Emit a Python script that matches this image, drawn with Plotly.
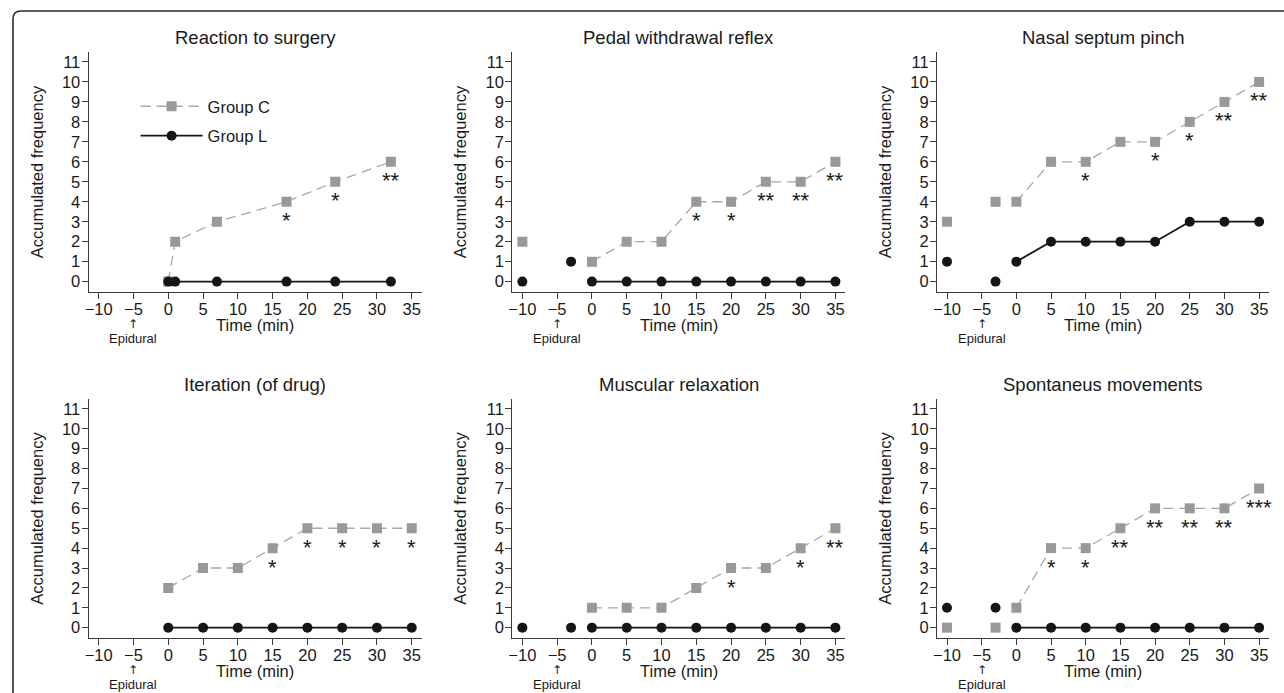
import plotly.graph_objects as go

# ---------------- data ----------------
panel_titles = ["Reaction to surgery", "Pedal withdrawal reflex", "Nasal septum pinch",
                "Iteration (of drug)", "Muscular relaxation", "Spontaneus movements"]

reaction_times = [0, 1, 7, 17, 24, 32]
main_times = [0, 5, 10, 15, 20, 25, 30, 35]
pre_times = [-10, -3]

# Group C (control) accumulated frequency
c_reaction = [0, 2, 3, 4, 5, 6]
c_pedal = [1, 2, 2, 4, 4, 5, 5, 6]
c_nasal = [4, 6, 6, 7, 7, 8, 9, 10]
c_iteration = [2, 3, 3, 4, 5, 5, 5, 5]
c_muscular = [1, 1, 1, 2, 3, 3, 4, 5]
c_spont = [1, 4, 4, 5, 6, 6, 6, 7]

# Group L accumulated frequency
l_reaction = [0, 0, 0, 0, 0, 0]
l_pedal = [0, 0, 0, 0, 0, 0, 0, 0]
l_nasal = [1, 2, 2, 2, 2, 3, 3, 3]
l_iteration = [0, 0, 0, 0, 0, 0, 0, 0]
l_muscular = [0, 0, 0, 0, 0, 0, 0, 0]
l_spont = [0, 0, 0, 0, 0, 0, 0, 0]

# pre-epidural (baseline) values at -10 and -3 min
c_pre_pedal = [2, None]
l_pre_pedal = [0, 1]
c_pre_nasal = [3, 4]
l_pre_nasal = [1, 0]
l_pre_muscular = [0, 0]
c_pre_spont = [0, 0]
l_pre_spont = [1, 1]

# significance marks under Group C
s_reaction = ["", "", "", "*", "*", "**"]
s_pedal = ["", "", "", "*", "*", "**", "**", "**"]
s_nasal = ["", "", "*", "", "*", "*", "**", "**"]
s_iteration = ["", "", "", "*", "*", "*", "*", "*"]
s_muscular = ["", "", "", "", "*", "", "*", "**"]
s_spont = ["", "*", "*", "**", "**", "**", "**", "***"]

x_ticks = [-10, -5, 0, 5, 10, 15, 20, 25, 30, 35]
y_ticks = list(range(0, 12))

panels = [
    dict(t=reaction_times, c=c_reaction, l=l_reaction, s=s_reaction, cpre=None, lpre=None),
    dict(t=main_times, c=c_pedal, l=l_pedal, s=s_pedal, cpre=c_pre_pedal, lpre=l_pre_pedal),
    dict(t=main_times, c=c_nasal, l=l_nasal, s=s_nasal, cpre=c_pre_nasal, lpre=l_pre_nasal),
    dict(t=main_times, c=c_iteration, l=l_iteration, s=s_iteration, cpre=None, lpre=None),
    dict(t=main_times, c=c_muscular, l=l_muscular, s=s_muscular, cpre=None, lpre=l_pre_muscular),
    dict(t=main_times, c=c_spont, l=l_spont, s=s_spont, cpre=c_pre_spont, lpre=l_pre_spont),
]

# ---------------- style ----------------
W, H = 1284, 693
FONT = "Liberation Sans, Arial, Helvetica, sans-serif"
TXT = "#1a1a1a"
AX = "#3a3a3a"
C_MARK = "#999999"
C_LINE = "#a8a8a8"
L_COL = "#151515"

col_px = [(85, 419), (510, 844), (936, 1269)]
row_px = [(52, 292), (399, 638)]


def fx(p):
    return p / W


def fy(p):
    return 1 - p / H


fig = go.Figure()
layout = dict(
    width=W, height=H,
    margin=dict(l=0, r=0, t=0, b=0),
    paper_bgcolor="white", plot_bgcolor="white",
    font=dict(family=FONT, color=TXT, size=16.5),
    showlegend=True,
    legend=dict(x=fx(132), y=fy(89), xanchor="left", yanchor="top",
                bgcolor="rgba(0,0,0,0)", font=dict(size=16.5, color=TXT),
                traceorder="grouped", tracegroupgap=5, itemwidth=62),
)
annotations = []
shapes = []

for i, p in enumerate(panels):
    r, c = divmod(i, 3)
    n = "" if i == 0 else str(i + 1)
    xa, ya = "x" + n, "y" + n
    x0, x1 = col_px[c]
    y0, y1 = row_px[r]

    layout["xaxis" + n] = dict(
        domain=[fx(x0), fx(x1)], anchor=ya, range=[-11.43, 36.43],
        tickmode="array", tickvals=x_ticks, ticks="outside", ticklen=6, tickwidth=1.2,
        tickcolor=AX, showline=True, linecolor=AX, linewidth=1.3, showgrid=False,
        zeroline=False, tickfont=dict(size=16.5, color=TXT), ticklabelstandoff=-4,
    )
    layout["yaxis" + n] = dict(
        domain=[fy(y1), fy(y0)], anchor=xa, range=[-0.52, 11.5],
        tickmode="array", tickvals=y_ticks, ticks="outside", ticklen=6, tickwidth=1.2,
        tickcolor=AX, showline=True, linecolor=AX, linewidth=1.3, showgrid=False,
        zeroline=False, tickfont=dict(size=16.5, color=TXT), ticklabelstandoff=-2,
        title=dict(text="Accumulated frequency", font=dict(size=16.5, color=TXT), standoff=14),
    )

    # baseline (pre-epidural) points
    if p["cpre"] is not None:
        fig.add_trace(go.Scatter(x=pre_times, y=p["cpre"], mode="markers", xaxis=xa, yaxis=ya,
                                 marker=dict(symbol="square", size=10, color=C_MARK),
                                 showlegend=False, hoverinfo="skip"))
    # Group C main line
    fig.add_trace(go.Scatter(x=p["t"], y=p["c"], mode="lines+markers", xaxis=xa, yaxis=ya,
                             name="Group C", legendgroup="C", showlegend=(i == 0),
                             line=dict(color=C_LINE, width=1.3, dash="10px,6px"),
                             marker=dict(symbol="square", size=10, color=C_MARK)))
    if p["lpre"] is not None:
        fig.add_trace(go.Scatter(x=pre_times, y=p["lpre"], mode="markers", xaxis=xa, yaxis=ya,
                                 marker=dict(symbol="circle", size=10, color=L_COL),
                                 showlegend=False, hoverinfo="skip"))
    # Group L main line
    fig.add_trace(go.Scatter(x=p["t"], y=p["l"], mode="lines+markers", xaxis=xa, yaxis=ya,
                             name="Group L", legendgroup="L", showlegend=(i == 0),
                             line=dict(color=L_COL, width=1.8),
                             marker=dict(symbol="circle", size=10, color=L_COL)))

    # significance stars
    for tx, cy, s in zip(p["t"], p["c"], p["s"]):
        if s:
            annotations.append(dict(x=tx, y=cy, xref=xa, yref=ya, text=s, showarrow=False,
                                    yshift=-19, font=dict(size=22, color=TXT)))

    # panel title
    annotations.append(dict(x=fx((x0 + x1) / 2), y=fy(y0 - 15), xref="paper", yref="paper",
                            text=panel_titles[i], showarrow=False, xanchor="center",
                            yanchor="middle", font=dict(size=18.5, color=TXT)))
    # x-axis title
    annotations.append(dict(x=fx((x0 + x1) / 2), y=fy(y1 + 33), xref="paper", yref="paper",
                            text="Time (min)", showarrow=False, xanchor="center",
                            yanchor="middle", font=dict(size=16.5, color=TXT)))
    # epidural marker
    annotations.append(dict(x=-5, y=fy(y1 + 32), xref=xa, yref="paper", text="↑",
                            showarrow=False, yanchor="middle",
                            font=dict(family="DejaVu Sans", size=12, color=TXT)))
    annotations.append(dict(x=-5, y=fy(y1 + 46), xref=xa, yref="paper", text="Epidural",
                            showarrow=False, yanchor="middle", font=dict(size=13, color=TXT)))

# outer frame with rounded top-left corner
shapes.append(dict(type="path", xref="paper", yref="paper",
                   path=f"M {fx(9)},{fy(693)} L {fx(9)},{fy(19)} Q {fx(9)},{fy(11)} {fx(17)},{fy(11)} L {fx(1284)},{fy(11)}",
                   line=dict(color="#2a2a2a", width=1.6)))

layout["annotations"] = annotations
layout["shapes"] = shapes
fig.update_layout(**layout)
fig.write_html("out.html", config={"displayModeBar": False},
               post_script="document.body.style.margin='0';document.body.style.overflow='hidden';")
